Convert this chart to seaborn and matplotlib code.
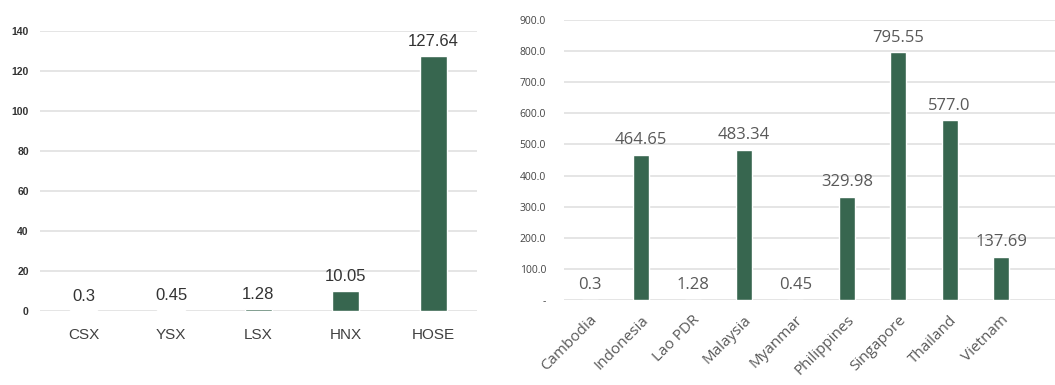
import matplotlib
matplotlib.use("Agg")
import matplotlib.pyplot as plt
import seaborn as sns
import pandas as pd

# Market capitalisation by exchange (left) and by country (right)
exchanges = ["CSX", "YSX", "LSX", "HNX", "HOSE"]
exchange_values = [0.3, 0.45, 1.28, 10.05, 127.64]
exchange_labels = ["0.3", "0.45", "1.28", "10.05", "127.64"]

countries = ["Cambodia", "Indonesia", "Lao PDR", "Malaysia", "Myanmar",
             "Philippines", "Singapore", "Thailand", "Vietnam"]
country_values = [0.3, 464.65, 1.28, 483.34, 0.45, 329.98, 795.55, 577.0, 137.69]
country_labels = ["0.3", "464.65", "1.28", "483.34", "0.45", "329.98",
                  "795.55", "577.0", "137.69"]

left_ticks = [0, 20, 40, 60, 80, 100, 120, 140]
right_ticks = [0, 100, 200, 300, 400, 500, 600, 700, 800, 900]
right_tick_labels = ["-", "100.0", "200.0", "300.0", "400.0", "500.0",
                     "600.0", "700.0", "800.0", "900.0"]

BAR = "#37664f"
GRID = "#e3e3e3"
GREY = "#595959"

sns.set_theme(style="white")
plt.rcParams["font.family"] = ["Open Sans", "DejaVu Sans"]

fig = plt.figure(figsize=(10.55, 3.85), dpi=100)
ax1 = fig.add_axes([0.0379, 0.192, 0.414, 0.727])
ax2 = fig.add_axes([0.5346, 0.2208, 0.4654, 0.7273])

df1 = pd.DataFrame({"exchange": exchanges, "value": exchange_values})
df2 = pd.DataFrame({"country": countries, "value": country_values})

# Left panel: exchanges
sns.barplot(data=df1, x="exchange", y="value", color=BAR, width=0.31,
            saturation=1, ax=ax1, zorder=3)
ax1.set_ylim(0, 140)
ax1.set_xlim(-0.5, 4.5)
ax1.set_yticks(left_ticks)
ax1.set_yticklabels([str(t) for t in left_ticks], fontsize=7.5,
                    fontweight="bold", color="#333333", family="Liberation Sans")
ax1.tick_params(axis="y", length=0, pad=8)
ax1.tick_params(axis="x", length=0, pad=12)
for lab in ax1.get_xticklabels():
    lab.set_fontsize(11)
    lab.set_color("#404040")
    lab.set_family("Liberation Sans")
ax1.yaxis.grid(True, color=GRID, linewidth=1.3, zorder=0)
ax1.set_axisbelow(True)
ax1.set_xlabel("")
ax1.set_ylabel("")
for s in ax1.spines.values():
    s.set_visible(False)
ax1.bar_label(ax1.containers[0], labels=exchange_labels, padding=5,
              fontsize=12, color="#333333", family="Liberation Sans")

# Right panel: countries
sns.barplot(data=df2, x="country", y="value", color=BAR, width=0.31,
            saturation=1, ax=ax2, zorder=3)
ax2.set_ylim(0, 900)
ax2.set_xlim(-0.5, 9.05)
ax2.set_yticks(right_ticks)
ax2.set_yticklabels(right_tick_labels, fontsize=7.5, color="#444444")
ax2.tick_params(axis="y", length=0, pad=13)
ax2.tick_params(axis="x", length=0, pad=9)
ax2.set_xticks(range(len(countries)))
ax2.set_xticklabels(countries, rotation=45, ha="right",
                    rotation_mode="anchor", fontsize=11, color=GREY)
ax2.yaxis.grid(True, color=GRID, linewidth=1.3, zorder=0)
ax2.set_axisbelow(True)
ax2.set_xlabel("")
ax2.set_ylabel("")
for s in ax2.spines.values():
    s.set_visible(False)
ax2.bar_label(ax2.containers[0], labels=country_labels, padding=5,
              fontsize=12, color=GREY)

fig.savefig("out.png", dpi=100, facecolor="white")
